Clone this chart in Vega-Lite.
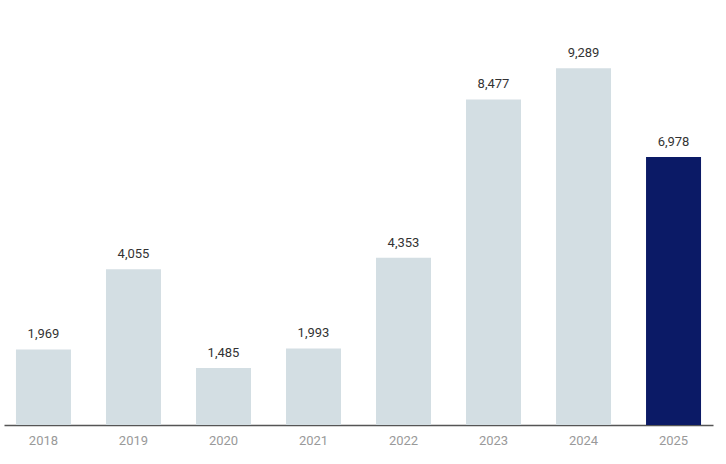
{
  "$schema": "https://vega.github.io/schema/vega-lite/v6.json",
  "width": 709,
  "height": 384,
  "autosize": {"type": "none"},
  "padding": {"left": 4, "top": 41, "right": 13, "bottom": 39},
  "background": "white",
  "config": {"view": {"stroke": null}, "font": "Roboto"},
  "data": {"values": [
    {"year": "2018", "value": 1969, "current": "no"},
    {"year": "2019", "value": 4055, "current": "no"},
    {"year": "2020", "value": 1485, "current": "no"},
    {"year": "2021", "value": 1993, "current": "no"},
    {"year": "2022", "value": 4353, "current": "no"},
    {"year": "2023", "value": 8477, "current": "no"},
    {"year": "2024", "value": 9289, "current": "no"},
    {"year": "2025", "value": 6978, "current": "yes"}
  ]},
  "encoding": {
    "x": {"field": "year", "type": "ordinal", "scale": {"paddingInner": 0.389, "paddingOuter": 0.133},
      "axis": {"title": null, "labelAngle": 0, "labelColor": "#999999", "labelFontSize": 13, "labelPadding": 9, "ticks": false, "domainColor": "#555555", "domainWidth": 1.5}},
    "y": {"field": "value", "type": "quantitative", "scale": {"domain": [0, 10000]}, "axis": null}
  },
  "layer": [
    {"mark": {"type": "bar"},
     "encoding": {"color": {"field": "current", "type": "nominal", "scale": {"domain": ["no", "yes"], "range": ["#d3dee3", "#0b1a66"]}, "legend": null}}},
    {"mark": {"type": "text", "dy": -8, "baseline": "bottom", "fontSize": 13, "color": "#333333"},
     "encoding": {"text": {"field": "value", "type": "quantitative", "format": ","}}}
  ]
}
